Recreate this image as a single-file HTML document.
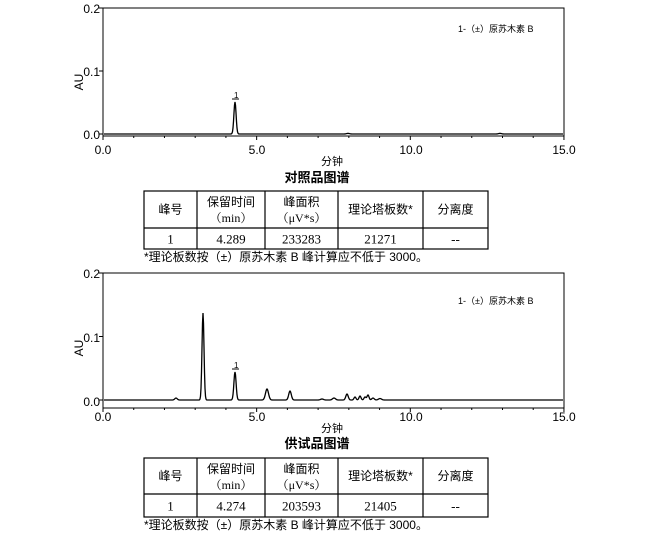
<!DOCTYPE html>
<html><head><meta charset="utf-8"><style>
html,body{margin:0;padding:0;background:#fff;}
svg{display:block;}
text{font-family:"Liberation Sans","Noto Sans CJK SC",sans-serif;fill:#000;}
.s{font-family:"Liberation Serif","Noto Serif CJK SC","Noto Sans CJK SC",serif;}
</style></head><body>
<svg id="s" width="655" height="536" viewBox="0 0 655 536" xmlns="http://www.w3.org/2000/svg">
<g id="c1"></g><g id="c2"></g>
<g font-size="12">
<text x="100" y="13" text-anchor="end">0.2</text>
<text x="100" y="76" text-anchor="end">0.1</text>
<text x="100" y="139" text-anchor="end">0.0</text>
<text x="103" y="154" text-anchor="middle">0.0</text>
<text x="257" y="154" text-anchor="middle">5.0</text>
<text x="411" y="154" text-anchor="middle">10.0</text>
<text x="564" y="154" text-anchor="middle">15.0</text>
<text transform="translate(83,82) rotate(-90)" text-anchor="middle">AU</text>
<text x="100" y="278" text-anchor="end">0.2</text>
<text x="100" y="342" text-anchor="end">0.1</text>
<text x="100" y="406" text-anchor="end">0.0</text>
<text x="103" y="421" text-anchor="middle">0.0</text>
<text x="257" y="421" text-anchor="middle">5.0</text>
<text x="411" y="421" text-anchor="middle">10.0</text>
<text x="564" y="421" text-anchor="middle">15.0</text>
<text transform="translate(83,348) rotate(-90)" text-anchor="middle">AU</text>
</g>
<g font-size="9">
<text x="458" y="32">1-（±）原苏木素 B</text>
<text x="458" y="304">1-（±）原苏木素 B</text>
</g>
<g font-size="11">
<text x="332" y="165" text-anchor="middle">分钟</text>
<text x="332" y="432" text-anchor="middle">分钟</text>
</g>
<g font-size="13" font-weight="bold">
<text x="317" y="182" text-anchor="middle">对照品图谱</text>
<text x="317" y="448" text-anchor="middle">供试品图谱</text>
</g>
<g id="t1"></g><g id="t2"></g>
</svg>
<script>
var NS="http://www.w3.org/2000/svg";
function el(p,n,a,txt){var e=document.createElementNS(NS,n);for(var k in a)e.setAttribute(k,a[k]);if(txt!=null)e.textContent=txt;p.appendChild(e);return e;}
function chart(g,top,bot,base,peaks,labelX,labelY){
  el(g,"rect",{x:103,y:top,width:461,height:bot-top,fill:"none",stroke:"#000","stroke-width":1});
  for(var i=0;i<=15;i++){var x=103+i*30.73;var L=(i%5==0)?4:2;el(g,"line",{x1:x,y1:bot,x2:x,y2:bot+L,stroke:"#000","stroke-width":1});}
  el(g,"line",{x1:99,y1:top,x2:103,y2:top,stroke:"#000"});
  el(g,"line",{x1:99,y1:(top+base)/2,x2:103,y2:(top+base)/2,stroke:"#000"});
  el(g,"line",{x1:99,y1:base,x2:103,y2:base,stroke:"#000"});
  var d="";
  for(var x=104;x<=563;x+=0.5){var y=base;for(var j=0;j<peaks.length;j++){var p=peaks[j];var dx=(x-p[0])/p[2];y-=p[1]*Math.exp(-0.5*dx*dx);}d+=(d?"L":"M")+x+" "+y.toFixed(2);}
  el(g,"path",{d:d,fill:"none",stroke:"#000","stroke-width":1.3});
  el(g,"line",{x1:labelX-3,y1:labelY,x2:labelX+4,y2:labelY,stroke:"#000","stroke-width":1});
  el(g,"text",{x:labelX-1,y:labelY-1,"font-size":"8"},"1");
}
chart(document.getElementById("c1"),8,136,134,[[235,32,1.1],[348,0.6,1.5],[500,0.6,1.5]],235,99);
chart(document.getElementById("c2"),273,408,400,[[176,2,1.2],[203,87,1.0],[235,28,1.1],[267,11,1.5],[290,9,1.3],[322,1,1.5],[334,2,1.5],[347,6,1.2],[355,3,1],[360,4,1],[365,3,1],[368,5,1],[373,2,1.2],[380,1.5,1.5]],235,369);
function table(g,y0,y1,y2,vals){
  var xs=[144,197,265,338,423,488];
  el(g,"rect",{x:144,y:y0,width:344,height:y2-y0,fill:"none",stroke:"#000","stroke-width":1.2});
  el(g,"line",{x1:144,y1:y1,x2:488,y2:y1,stroke:"#000","stroke-width":1.2});
  for(var i=1;i<5;i++)el(g,"line",{x1:xs[i],y1:y0,x2:xs[i],y2:y2,stroke:"#000","stroke-width":1.2});
  var h=["峰号",null,null,"理论塔板数*","分离度"];
  var m=(y0+y1)/2+4;
  for(var i=0;i<5;i++){var cx=(xs[i]+xs[i+1])/2;
    if(h[i])el(g,"text",{x:cx,y:m,"font-size":"12","text-anchor":"middle"},h[i]);}
  el(g,"text",{x:(xs[1]+xs[2])/2,y:y0+15,"font-size":"12","text-anchor":"middle"},"保留时间");
  el(g,"text",{x:(xs[1]+xs[2])/2,y:y0+31,"font-size":"12","text-anchor":"middle","class":"s"},"（min）");
  el(g,"text",{x:(xs[2]+xs[3])/2,y:y0+15,"font-size":"12","text-anchor":"middle"},"峰面积");
  el(g,"text",{x:(xs[2]+xs[3])/2,y:y0+31,"font-size":"12","text-anchor":"middle","class":"s"},"（μV*s）");
  for(var i=0;i<5;i++){var cx=(xs[i]+xs[i+1])/2;el(g,"text",{x:cx,y:(y1+y2)/2+5,"font-size":"13","text-anchor":"middle","class":"s"},vals[i]);}
  el(g,"text",{x:144,y:y2+12,"font-size":"12"},"*理论板数按（±）原苏木素 B 峰计算应不低于 3000。");
}
table(document.getElementById("t1"),191,228,249,["1","4.289","233283","21271","--"]);
table(document.getElementById("t2"),458,494,517,["1","4.274","203593","21405","--"]);
</script>
</body></html>
